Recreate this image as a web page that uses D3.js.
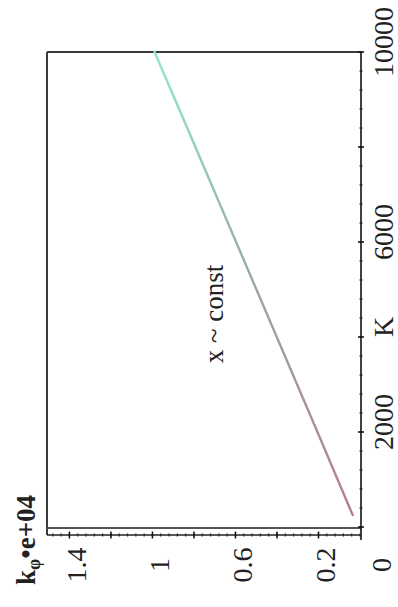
<!DOCTYPE html>
<html><head><meta charset="utf-8">
<script src="https://cdn.jsdelivr.net/npm/d3@7"></script>
<style>html,body{margin:0;padding:0;background:#fff;}svg{display:block;}</style>
</head><body>
<svg id="c" width="398" height="607"></svg>
<script>
// Data (chart is drawn rotated 90° counter-clockwise, as in the reference)
const K = [250, 1000, 2000, 3000, 4000, 5000, 6000, 7000, 8000, 9000, 10000];
const kphi = [0.035, 0.108, 0.205, 0.303, 0.401, 0.499, 0.597, 0.695, 0.793, 0.891, 0.99];
const KTickLabels = ["", "2000", "K", "6000", "", "10000"];
const KMajor = [0, 2000, 4000, 6000, 8000, 10000];
const kMajor = [0.2, 0.4, 0.6, 0.8, 1.0, 1.2, 1.4];
const kTickLabels = ["0.2", "", "0.6", "", "1", "", "1.4"];
const annotation = "x ~ const";

const svg = d3.select("#c");
const serif = "'Liberation Serif','DejaVu Serif',serif";

// K runs bottom->top, k runs right->left
const yK = d3.scaleLinear().domain([0, 10000]).range([527, 52]);
const xk = d3.scaleLinear().domain([0, 1.508]).range([360, 47]);

// gradient for curve
const defs = svg.append("defs");
const grad = defs.append("linearGradient").attr("id","g")
  .attr("gradientUnits","userSpaceOnUse")
  .attr("x1", xk(kphi[0])).attr("y1", yK(K[0]))
  .attr("x2", xk(kphi[kphi.length-1])).attr("y2", yK(K[K.length-1]));
grad.append("stop").attr("offset","0%").attr("stop-color","#b88088");
grad.append("stop").attr("offset","50%").attr("stop-color","#9aa8a6");
grad.append("stop").attr("offset","100%").attr("stop-color","#90e6d4");

// frame
const frameCol = "#3a3a3a";
svg.append("line").attr("x1",47).attr("x2",361).attr("y1",yK(10000)).attr("y2",yK(10000))
  .attr("stroke",frameCol).attr("stroke-width",2);
svg.append("line").attr("x1",47).attr("x2",47).attr("y1",yK(10000)).attr("y2",535)
  .attr("stroke",frameCol).attr("stroke-width",2);
svg.append("line").attr("x1",47).attr("x2",361).attr("y1",528).attr("y2",528)
  .attr("stroke","#555").attr("stroke-width",2.2);

// K axis (right side, vertical)
const KMinor = d3.range(0, 10001, 400);
const gK = svg.append("g").attr("transform","translate(361,0)");
gK.append("line").attr("x1",0).attr("x2",0).attr("y1",yK(10000)).attr("y2",540)
  .attr("stroke","#111").attr("stroke-width",1.6);
gK.selectAll("line.mn").data(KMinor).join("line").attr("class","mn")
  .attr("x1",-1.5).attr("x2",1.5).attr("y1",d=>yK(d)).attr("y2",d=>yK(d))
  .attr("stroke","#222").attr("stroke-width",1.2);
gK.selectAll("line.mj").data(KMajor).join("line").attr("class","mj")
  .attr("x1",-3).attr("x2",3).attr("y1",d=>yK(d)).attr("y2",d=>yK(d))
  .attr("stroke","#111").attr("stroke-width",1.5);
svg.selectAll("text.kl").data(KMajor).join("text").attr("class","kl")
  .attr("transform",d=>`translate(393,${yK(d)-10}) rotate(-90)`)
  .attr("text-anchor","middle").attr("font-family",serif).attr("font-size",28)
  .attr("fill","#222").text((d,i)=>KTickLabels[i]);

// k axis (bottom, horizontal)
const kMinor = d3.range(0, 1.5001, 0.04);
const gk = svg.append("g").attr("transform","translate(0,535)");
gk.append("line").attr("x1",47).attr("x2",361).attr("y1",0).attr("y2",0)
  .attr("stroke","#222").attr("stroke-width",1.4);
gk.selectAll("line.mn").data(kMinor).join("line").attr("class","mn")
  .attr("x1",d=>xk(d)).attr("x2",d=>xk(d)).attr("y1",-1.5).attr("y2",1.5)
  .attr("stroke","#222").attr("stroke-width",1.2);
gk.selectAll("line.mj").data(kMajor).join("line").attr("class","mj")
  .attr("x1",d=>xk(d)).attr("x2",d=>xk(d)).attr("y1",-3.5).attr("y2",3.5)
  .attr("stroke","#111").attr("stroke-width",1.5);
svg.selectAll("text.kk").data(kMajor).join("text").attr("class","kk")
  .attr("transform",d=>`translate(${xk(d)+17},565) rotate(-90)`)
  .attr("text-anchor","middle").attr("font-family",serif).attr("font-size",28)
  .attr("fill","#222").text((d,i)=>kTickLabels[i]);
// corner 0
svg.append("text").attr("transform","translate(391,565) rotate(-90)")
  .attr("text-anchor","middle").attr("font-family",serif).attr("font-size",28)
  .attr("fill","#222").text("0");

// title
const t = svg.append("text").attr("transform","translate(35,540) rotate(-90)")
  .attr("text-anchor","middle").attr("font-family",serif).attr("font-size",27)
  .attr("font-weight","bold").attr("fill","#222");
t.append("tspan").text("k");
t.append("tspan").attr("font-size",18).attr("dy",5).text("φ");
t.append("tspan").attr("dy",-5).text("•e+04");

// curve
const line = d3.line().x((d,i)=>xk(kphi[i])).y((d,i)=>yK(d));
svg.append("path").datum(K).attr("d",line).attr("fill","none")
  .attr("stroke","url(#g)").attr("stroke-width",2.4).attr("stroke-linecap","round");

// annotation
svg.append("text").attr("transform","translate(223,314) rotate(-90)")
  .attr("text-anchor","middle").attr("font-family",serif).attr("font-size",27)
  .attr("fill","#222").text(annotation);
</script>
</body></html>
